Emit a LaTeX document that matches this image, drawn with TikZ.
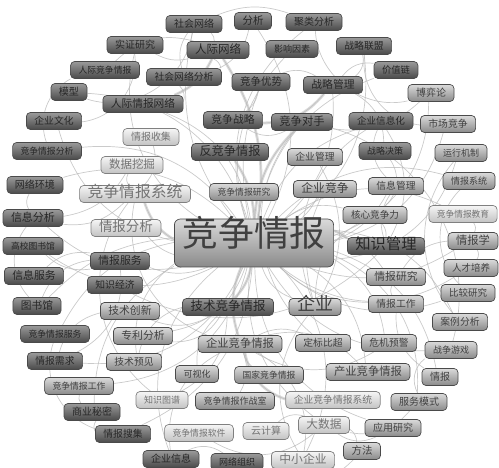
\documentclass[tikz,border=0pt]{standalone}
\usepackage{fontspec}
\newfontfamily\cjk{Noto Sans CJK SC}
\usetikzlibrary{backgrounds}
\definecolor{dktop}{HTML}{9A9A9A}
\definecolor{dkbot}{HTML}{4A4A4A}
\definecolor{mdtop}{HTML}{DADADA}
\definecolor{mdbot}{HTML}{8A8A8A}
\definecolor{lttop}{HTML}{F6F6F6}
\definecolor{ltbot}{HTML}{C2C2C2}
\definecolor{rim}{HTML}{4A4A4A}
\tikzset{
         kw/.style=
          {
           rounded corners=4pt,
           draw=rim,
           line width=.7pt,
           inner xsep=8pt,
           inner ysep=3.5pt,
           text height=.82em,
           text depth=.18em,
           font=\cjk\fontsize{#1}{#1}\selectfont
          },
         dk/.style={top color=dktop, bottom color=dkbot, text=black!85},
         md/.style={top color=mdtop, bottom color=mdbot, text=black!75},
         lt/.style={top color=lttop, bottom color=ltbot, text=black!55, draw=black!50},
         lnk/.style={draw=black!28, line width=.7pt, opacity=.75}
        }

\begin{document}
\begin{tikzpicture}[x=1pt,y=-1pt]
\useasboundingbox (0,0) rectangle (499,468);

%top arc
\node[kw=10,dk](shwl)at(194,24){社会网络};
\node[kw=10.5,dk](fx)at(253,21){分析};
\node[kw=10,dk](jlfx)at(314,22){聚类分析};
\node[kw=10,dk](szyj)at(135,45){实证研究};
\node[kw=11.5,dk](rjwl)at(218,50){人际网络};
\node[kw=9,dk](yxys)at(292,49){影响因素};
\node[kw=9.8,dk](zllm)at(364,46){战略联盟};
\node[kw=8.8,dk](rjjzqb)at(105,70){人际竞争情报};
\node[kw=9.8,dk](shwlfx)at(184,77){社会网络分析};
\node[kw=9.3,dk](jzl)at(396,70){价值链};
\node[kw=10,dk](mx)at(69,92){模型};
\node[kw=10.5,dk](jzys)at(261,82){竞争优势};
\node[kw=10.8,dk](zlgl)at(333,85){战略管理};
\node[kw=10,md](byl)at(431,93){博弈论};
\node[kw=10.7,dk](rjqbwl)at(143,104){人际情报网络};
%upper middle
\node[kw=9.8,dk](qywh)at(54,121){企业文化};
\node[kw=10.8,dk](jzzl)at(233,120){竞争战略};
\node[kw=11.3,dk](jzds)at(302,122){竞争对手};
\node[kw=9.6,dk](qyxxh)at(381,121){企业信息化};
\node[kw=9.8,md](scjz)at(448,124){市场竞争};
\node[kw=10,lt](qbsj)at(151,137){情报收集};
\node[kw=8.8,dk](jzqbfx)at(47,151){竞争情报分析};
\node[kw=12.2,dk](fjzqb)at(230,152){反竞争情报};
\node[kw=9.8,md](qygl)at(315,157){企业管理};
\node[kw=9,dk](zljc)at(385,151){战略决策};
\node[kw=9,md](yxjz)at(461,153){运行机制};
\node[kw=11.5,lt](sjwj)at(132,165){数据挖掘};
\node[kw=10,dk](wlhj)at(35,185){网络环境};
\node[kw=15.8,lt](jzqbxt)at(135,194){竞争情报系统};
\node[kw=8.8,md](jzqbyj)at(244,192){竞争情报研究};
\node[kw=11.8,md](qyjz)at(325,189){企业竞争};
\node[kw=9.8,md](xxgl)at(396,186){信息管理};
\node[kw=9,md](qbxt)at(469,181){情报系统};
%centre row
\node[kw=11,dk](xxfx)at(33,218){信息分析};
\node[kw=13.5,lt](qbfx)at(126,228){情报分析};
\node[kw=35.8,md,minimum height=48pt,rounded corners=6pt](jzqb)at(254,243){竞争情报};
\node[kw=9.6,md](hxjzl)at(375,215){核心竞争力};
\node[kw=8.7,lt](jzqbjy)at(463,214){竞争情报教育};
\node[kw=15.3,dk](zsgl)at(386,246){知识管理};
\node[kw=11.3,md](qbx)at(473,241){情报学};
\node[kw=8.8,dk](gxtsg)at(33,246){高校图书馆};
\node[kw=10.8,dk](qbfw)at(120,261){情报服务};
\node[kw=10.8,dk](xxfw)at(34,276){信息服务};
\node[kw=9.8,dk](zsjj)at(115,285){知识经济};
\node[kw=10.8,md](qbyj)at(396,277){情报研究};
\node[kw=9.5,md](rcpy)at(471,268){人才培养};
%lower middle
\node[kw=10.8,md](jscx)at(130,311){技术创新};
\node[kw=10.7,dk](tsg)at(37,306){图书馆};
\node[kw=12.5,dk](jsjzqb)at(228,307){技术竞争情报};
\node[kw=18,md](qy)at(315,307){企业};
\node[kw=9.5,md](bjyj)at(468,293){比较研究};
\node[kw=9.8,md](qbgz)at(396,304){情报工作};
\node[kw=8.8,dk](jzqbfw)at(55,334){竞争情报服务};
\node[kw=10.8,md](zlfx)at(143,336){专利分析};
\node[kw=9.8,md](alfx)at(460,322){案例分析};
\node[kw=11.3,md](qyjzqb)at(240,344){企业竞争情报};
\node[kw=9.8,md](dbbc)at(323,343){定标比超};
\node[kw=9.8,md](wjyj)at(389,343){危机预警};
\node[kw=9,md](zzyx)at(451,350){战争游戏};
\node[kw=9.8,dk](qbxq)at(55,361){情报需求};
\node[kw=9.8,md](jsyj)at(134,362){技术预见};
\node[kw=9,md](ksh)at(197,374){可视化};
\node[kw=8.8,md](gjjzqb)at(269,375){国家竞争情报};
\node[kw=11.3,md](cyjzqb)at(368,372){产业竞争情报};
\node[kw=10,md](qb)at(440,377){情报};
%bottom arc
\node[kw=8.8,md](jzqbgz)at(79,386){竞争情报工作};
\node[kw=9,lt](zstp)at(162,400){知识图谱};
\node[kw=9,md](jzqbzzs)at(235,401){竞争情报作战室};
\node[kw=9.8,lt](qyjzqbxt)at(333,400){企业竞争情报系统};
\node[kw=10,md](fwms)at(419,402){服务模式};
\node[kw=10,dk](syjm)at(92,412){商业秘密};
\node[kw=8.8,lt](jzqbrj)at(199,433){竞争情报软件};
\node[kw=10,lt](yjs)at(266,431){云计算};
\node[kw=11.7,lt](dsj)at(324,425){大数据};
\node[kw=10,md](yyyj)at(393,428){应用研究};
\node[kw=9.8,dk](qbsouj)at(123,434){情报搜集};
\node[kw=10,dk](qyxx)at(171,459){企业信息};
\node[kw=9,dk](wlzz)at(237,462){网络组织};
\node[kw=11.8,lt](zxqy)at(303,460){中小企业};
\node[kw=10.5,md](ff)at(362,451){方法};

%links
\begin{scope}[on background layer]
\foreach \a/\b/\c in {jzqb/jzqbxt/20, jzqb/qyjzqb/-20, jzqb/jsjzqb/15, jzqb/fjzqb/-15,
  jzqb/zsgl/10, jzqb/qy/-25, jzqb/qbfx/15, jzqb/qyjz/-10, jzqb/jzds/20, jzqb/zlgl/-25,
  jzqb/jzys/15, jzqb/rjwl/-20, jzqb/shwl/25, jzqb/rjqbwl/-30, jzqb/qbfw/20, jzqb/jzqbfw/-25,
  jzqb/zlfx/30, jzqb/cyjzqb/25, jzqb/dsj/-30, jzqb/zxqy/35, jzqb/qyxx/-35, jzqb/qbsouj/30,
  jzqb/syjm/-30, jzqb/jzqbgz/35, jzqb/wlhj/-30, jzqb/xxfx/25, jzqb/tsg/-20, jzqb/gxtsg/30,
  jzqb/qbx/-25, jzqb/alfx/30, jzqb/bjyj/-30, jzqb/qbyj/20, jzqb/qbgz/-20, jzqb/hxjzl/25,
  jzqb/xxgl/-20, jzqb/qbxt/30, jzqb/scjz/-30, jzqb/qyxxh/25, jzqb/zllm/-30, jzqb/jlfx/35,
  jzqb/byl/-35, jzqb/szyj/35, jzqb/mx/-35, jzqb/qywh/30, jzqb/jzqbfx/-30, jzqb/qbxq/35,
  jzqb/jsyj/-30, jzqb/fwms/35, jzqb/yyyj/-35, jzqb/qb/30, jzqb/zzyx/-30, jzqb/wjyj/25,
  jzqb/rcpy/-35, jzqb/jzqbjy/30, jzqb/yxjz/-35, jzqb/jzl/30, jzqb/fx/-30, jzqb/yxys/30,
  jzqbxt/qyjzqb/-40, jzqbxt/sjwj/30, jzqbxt/qbsj/-30, jzqbxt/xxfx/25, jzqbxt/zstp/-45,
  rjwl/rjqbwl/20, rjwl/shwl/-20, rjwl/shwlfx/25, rjwl/rjjzqb/-30, rjwl/szyj/20,
  shwl/shwlfx/-25, shwl/jlfx/20, shwlfx/fx/-25, shwlfx/rjqbwl/30,
  zlgl/jzzl/25, zlgl/zllm/-30, zlgl/jzl/30, zlgl/jzys/-25, zlgl/zljc/30, jzzl/jzys/-20,
  jzds/jzzl/30, jzds/byl/-25, jzds/zzyx/45, jzds/dbbc/-45,
  qyjzqb/qyjzqbxt/-30, qyjzqb/dbbc/25, qyjzqb/wjyj/-30, qyjzqb/zxqy/35, qyjzqb/qyxx/-35,
  qyjzqb/jzqbzzs/25, qyjzqb/gjjzqb/-20, qyjzqb/cyjzqb/30,
  jsjzqb/zlfx/30, jsjzqb/jsyj/-30, jsjzqb/jscx/25, jsjzqb/ksh/-25, jsjzqb/zstp/30,
  qy/qyjz/20, qy/zxqy/-35, qy/hxjzl/30, qy/qygl/-30, qy/qyxxh/40,
  zsgl/qyxxh/-30, zsgl/zsjj/35, zsgl/xxgl/25, zsgl/hxjzl/-20,
  qbfw/tsg/-30, qbfw/gxtsg/25, qbfw/xxfw/-25, qbfw/qbxq/35,
  dsj/yjs/-30, dsj/jzqbrj/35, dsj/yyyj/-30, dsj/ff/25,
  qbx/qbyj/-25, qbx/rcpy/30, qbx/jzqbjy/-30, qbgz/qbyj/25, qbgz/qb/-30,
  xxfx/sjwj/-25, xxfx/wlhj/30, syjm/qbsouj/-30, syjm/jzqbgz/25, qyxx/wlzz/30,
  shwl/mx/50, szyj/qywh/45, jlfx/byl/-50, zllm/scjz/-45, yxjz/alfx/-40,
  qbxt/bjyj/-45, zzyx/fwms/-40, ff/wlzz/40, qbsouj/jzqbfw/45, tsg/xxfx/40,
  jzqbfx/rjjzqb/40, fwms/dsj/30, jscx/qbxq/-30, qyxxh/xxgl/-35, zljc/hxjzl/40}
 \draw[lnk,bend left=\c](\a)to(\b);
\foreach \a/\b/\c in {jzqb/qyjzqb/-20, jzqb/jzqbxt/20, rjwl/rjqbwl/20, zlgl/jzzl/25,
  jzqb/fjzqb/-15, jzqb/jzds/20, qyjzqb/qyjzqbxt/-30, jzqb/zsgl/10, jzqb/rjwl/-20,
  jzqb/jsjzqb/15}
 \draw[lnk,line width=2.8pt,opacity=.5,bend left=\c](\a)to(\b);
\end{scope}

\end{tikzpicture}
\end{document}
